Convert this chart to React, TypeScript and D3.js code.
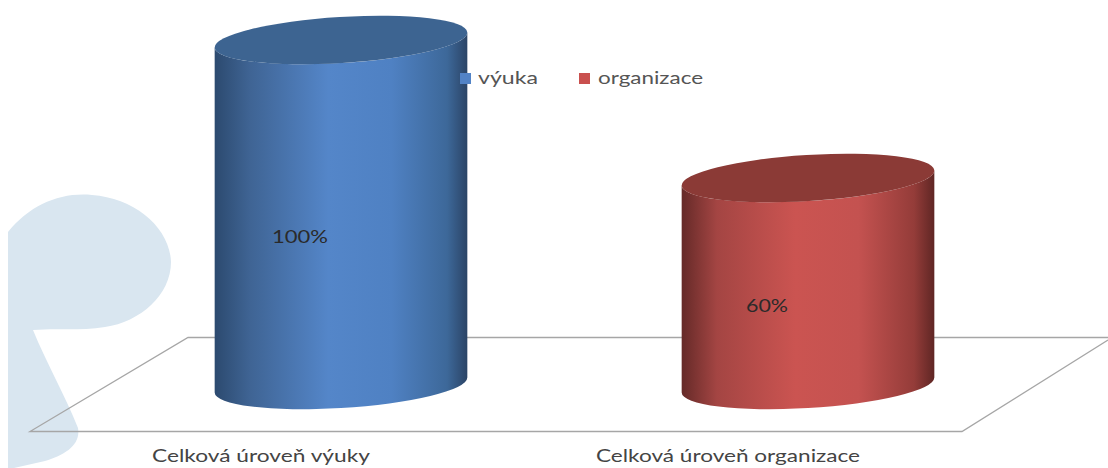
import React from "react";
import * as d3 from "d3";

const categories = ["Celková úroveň výuky", "Celková úroveň organizace"];
const seriesNames = ["výuka", "organizace"];
const seriesValues = [100, 60];
const seriesColors = ["#5283c6", "#c9504e"];
const topColors = ["#3d6491", "#8b3a36"];
const gradientStops = [
  ["#2c4a6f", "#3f6494", "#5486c9", "#4f81c3", "#3d6899", "#2b4466"],
  ["#652a28", "#a44543", "#cb5451", "#c45250", "#943c39", "#5f2624"],
];
const stopOffsets = [0, 0.14, 0.45, 0.7, 0.92, 1];

const WIDTH = 1108;
const HEIGHT = 468;
const FONT = "Lato, 'Open Sans', sans-serif";
const TILT = 3.5; // slant of the cylinder caps, in degrees

const x = d3.scaleBand<string>().domain(categories).range([107.5, 1041.5]);
const y = d3.scaleLinear().domain([0, 100]).range([385, 40]);
const rx = x.bandwidth() * 0.271;
const ry = 23;

// Horizontal and vertical offset of the cap's left/right extreme point.
const rad = (TILT * Math.PI) / 180;
const edgeX = Math.hypot(rx * Math.cos(rad), ry * Math.sin(rad));
const edgeY = ((rx * rx - ry * ry) * Math.sin(rad) * Math.cos(rad)) / edgeX;

function bodyPath(cx: number, value: number) {
  const top = y(value);
  const base = y(0);
  const p = [
    `M${cx - edgeX},${top + edgeY}`,
    `L${cx - edgeX},${base + edgeY}`,
    `A${rx},${ry} ${-TILT} 0 0 ${cx + edgeX},${base - edgeY}`,
    `L${cx + edgeX},${top - edgeY}`,
    `A${rx},${ry} ${-TILT} 0 1 ${cx - edgeX},${top + edgeY}`,
    "Z",
  ];
  return p.join("");
}

const floorLine = d3.line<[number, number]>();
const floorPts: [number, number][] = [
  [1108, 340],
  [962, 431.5],
  [30, 431.5],
  [188, 337.5],
  [1108, 337.5],
];

// Pale emblem behind the plot.
const emblem =
  "M8,232 C30,205 60,192 92,195 C135,198 170,228 171,262 C171,295 140,322 105,327 " +
  "C80,331 55,328 33,330 C45,360 65,395 78,428 C81,445 65,455 45,461 L14,468 L8,468 Z";

// Stretched text: the drawn width of each string is fixed.
function WideText(props: { w: number; children: React.ReactNode; [k: string]: unknown }) {
  const { w, children, ...rest } = props;
  return (
    <text fontFamily={FONT} fontSize={18} textLength={w} lengthAdjust="spacingAndGlyphs" {...rest}>
      {children}
    </text>
  );
}

const categoryLabelWidths = [218, 264];
const valueLabelWidths = [56, 42];
const legendLabelWidths = [60, 105];

export default function App() {
  return (
    <svg
      width={WIDTH}
      height={HEIGHT}
      viewBox={`0 0 ${WIDTH} ${HEIGHT}`}
      style={{ position: "absolute", left: 0, top: 0, background: "#fff" }}
    >
      <defs>
        {gradientStops.map((stops, i) => (
          <linearGradient id={`cyl-${i}`} key={i} x1="0" x2="1" y1="0" y2="0">
            {stops.map((c, j) => (
              <stop key={j} offset={stopOffsets[j]} stopColor={c} />
            ))}
          </linearGradient>
        ))}
      </defs>

      <path d={emblem} fill="#d9e6f0" />
      <path d={floorLine(floorPts) ?? ""} fill="none" stroke="#a6a6a6" strokeWidth={1.3} />

      {categories.map((c, i) => {
        const cx = x(c)! + x.bandwidth() / 2;
        return (
          <g key={c}>
            <path d={bodyPath(cx, seriesValues[i])} fill={`url(#cyl-${i})`} />
            <ellipse
              cx={cx}
              cy={y(seriesValues[i])}
              rx={rx}
              ry={ry}
              fill={topColors[i]}
              transform={`rotate(${-TILT} ${cx} ${y(seriesValues[i])})`}
            />
            <WideText
              w={valueLabelWidths[i]}
              x={cx - 41 - valueLabelWidths[i] / 2}
              y={(y(seriesValues[i]) + y(0)) / 2 + 30.5}
              fill="#2a2a2a"
            >
              {seriesValues[i]}%
            </WideText>
            <WideText
              w={categoryLabelWidths[i]}
              x={cx - 80 - categoryLabelWidths[i] / 2}
              y={462}
              fill="#444444"
            >
              {c}
            </WideText>
          </g>
        );
      })}

      {seriesNames.map((name, i) => {
        const lx = [460, 579][i];
        return (
          <g key={name}>
            <rect x={lx} y={73} width={11} height={11} fill={seriesColors[i]} />
            <WideText w={legendLabelWidths[i]} x={lx + 18 + i} y={83.5} fill="#555555">
              {name}
            </WideText>
          </g>
        );
      })}
    </svg>
  );
}
